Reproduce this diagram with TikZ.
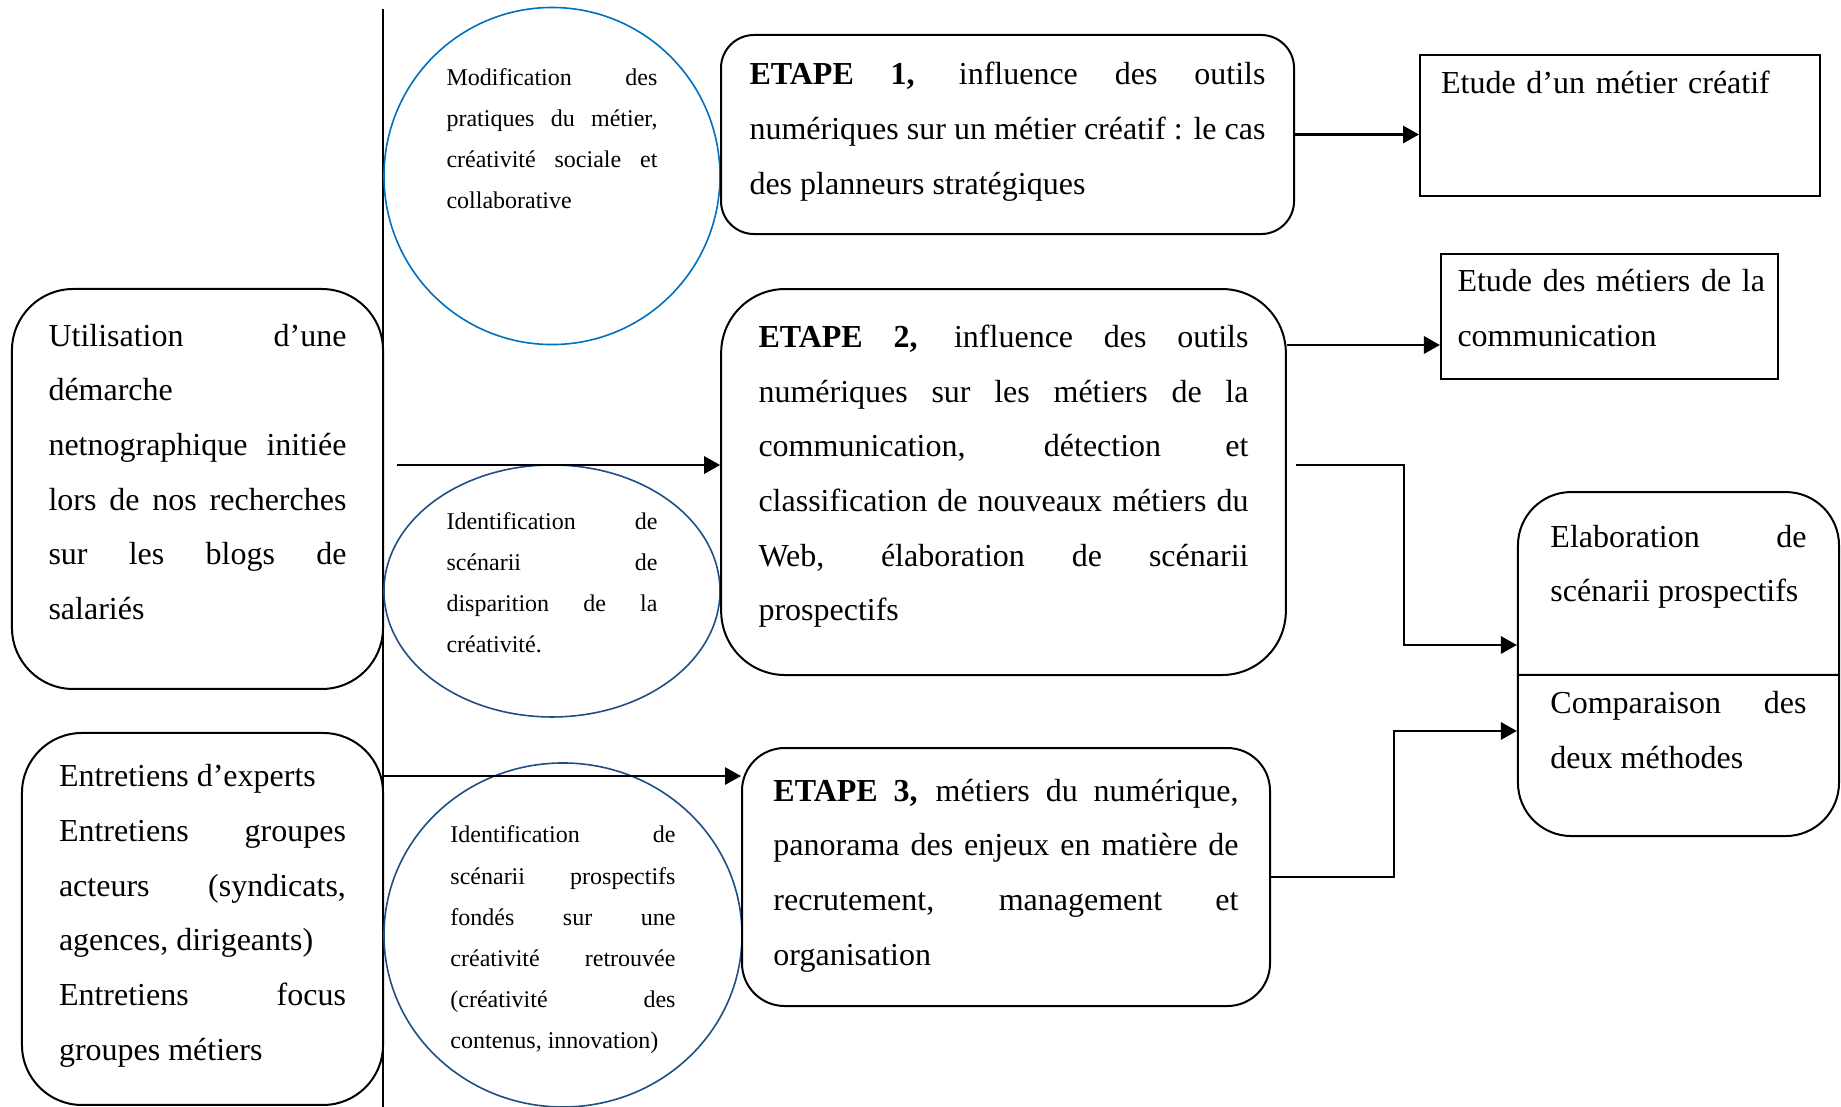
\documentclass[tikz,border=0pt]{standalone}
\usepackage{fontspec}
\setmainfont{Liberation Serif}
\usetikzlibrary{shapes.geometric, shapes.multipart, arrows.meta}
\definecolor{blueA}{RGB}{0,112,192}
\definecolor{blueB}{RGB}{32,78,130}
\tolerance=10000
\hbadness=10000
\hfuzz=20pt
\hyphenpenalty=10000

\begin{document}
\begin{tikzpicture} [
      stage/.style={draw, rectangle, line width=0.75pt, align=justify, inner ysep=0pt, font=\fontsize{12}{20.5}\selectfont},
      study/.style={draw, rectangle, line width=0.75pt, align=left, inner ysep=0pt, font=\fontsize{12}{20.5}\selectfont},
      idea/.style={draw, ellipse, line width=0.6pt, align=justify, inner sep=0pt, font=\fontsize{9}{15.4}\selectfont},
      link/.style={-{Triangle[length=6pt, width=6.4pt]}, line width=1.05pt}
   ]
    \useasboundingbox (0, 0) rectangle (24.264, -14.59);
    \coordinate (sepTop) at (5.048, -0.119);
    \coordinate (sepBottom) at (5.048, -14.59);
    \draw[line width=0.75pt] (sepTop) -- (sepBottom);

    \node[stage, rounded corners=23pt, text width=111.75pt, inner xsep=13.7pt, text height=21.4pt, text depth=128.6pt] (ndUtil) at (2.603, -6.445) {
      Utilisation d’une\linebreak
      démarche\\
      netnographique initiée\linebreak
      lors de nos recherches\linebreak
      sur les blogs de\linebreak
      salariés
    };
    \node[stage, rounded corners=22.5pt, below of=ndUtil, node distance=5.667cm, xshift=0.066cm, text width=107.6pt, inner xsep=13.9pt, text height=20.25pt, text depth=119.25pt] (ndEntretiens) {
      Entretiens d’experts\\
      Entretiens groupes\linebreak
      acteurs (syndicats,\linebreak
      agences, dirigeants)\\
      Entretiens focus\linebreak
      groupes métiers
    };

    \node[idea, draw=blueA, right of=ndUtil, node distance=4.672cm, yshift=4.125cm, text width=79.1pt, minimum width=126pt, minimum height=126.4pt, text height=6pt, text depth=74.25pt] (ndModif) {
      Modification des\linebreak
      pratiques du métier,\linebreak
      créativité sociale et\linebreak
      collaborative
    };
    \node[idea, draw=blueB, below of=ndModif, node distance=5.469cm, text width=79.1pt, minimum width=126pt, minimum height=94.5pt, text height=6pt, text depth=52.1pt] (ndDisparition) {
      Identification de\linebreak
      scénarii de\linebreak
      disparition de la\linebreak
      créativité.
    };
    \node[idea, draw=blueB, below of=ndDisparition, node distance=4.534cm, xshift=0.145cm, text width=84.4pt, minimum width=134.25pt, minimum height=129pt, text height=6pt, text depth=75pt] (ndRetrouvee) {
      Identification de\linebreak
      scénarii prospectifs\linebreak
      fondés sur une\linebreak
      créativité retrouvée\linebreak
      (créativité des\linebreak
      \mbox{contenus, innovation)}
    };

    \node[stage, rounded corners=24pt, right of=ndUtil, node distance=10.623cm, yshift=0.092cm, text width=183.75pt, inner xsep=14pt, text height=21.9pt, text depth=122.85pt] (ndEtapeB) {
      \textbf{ETAPE 2,} influence des outils\linebreak
      numériques sur les métiers de la\linebreak
      communication, détection et\linebreak
      classification de nouveaux métiers du\linebreak
      Web, élaboration de scénarii\linebreak
      prospectifs
    };
    \node[stage, rounded corners=12.4pt, above of=ndEtapeB, node distance=4.58cm, xshift=0.053cm, text width=193.5pt, inner xsep=10.7pt, text height=18.75pt, text depth=55.9pt] (ndEtapeA) {
      \textbf{ETAPE 1,} influence des outils\linebreak
      numériques sur un métier créatif : le cas\linebreak
      des planneurs stratégiques
    };
    \node[stage, rounded corners=16pt, below of=ndEtapeB, node distance=5.206cm, xshift=0.033cm, text width=174.4pt, inner xsep=11.8pt, text height=19.9pt, text depth=76.85pt] (ndEtapeC) {
      \textbf{ETAPE 3,} métiers du numérique,\linebreak
      panorama des enjeux en matière de\linebreak
      recrutement, management et\linebreak
      organisation
    };

    \node[study, right of=ndEtapeA, node distance=8.073cm, yshift=0.119cm, text width=134.2pt, inner xsep=7.9pt, text height=14.6pt, text depth=38.3pt] (ndMetier) {
      Etude d’un métier créatif
    };
    \node[study, right of=ndEtapeB, node distance=7.987cm, yshift=2.182cm, text width=114pt, inner xsep=6.2pt, text height=14.25pt, text depth=32.6pt] (ndComm) {
      \mbox{Etude des métiers de la}\\
      communication
    };
    \node[draw, rectangle split, rectangle split parts=2, line width=0.75pt, rounded corners=20pt, right of=ndEtapeB, node distance=8.896cm, yshift=-2.399cm, text width=96pt, inner xsep=12.2pt, inner ysep=0pt, align=justify, font=\fontsize{12}{20.5}\selectfont] (ndSynth) {
      \rule{0pt}{20.25pt}Elaboration de\linebreak
      scénarii prospectifs\rule[-27.1pt]{0pt}{27.1pt}
      \nodepart{two}
      \rule{0pt}{14.25pt}Comparaison des\linebreak
      deux méthodes\rule[-24.9pt]{0pt}{24.9pt}
    };

    \coordinate (netIn) at (5.232, -6.129);
    \coordinate (commIn) at ([yshift=-0.376cm]ndComm.west);
    \coordinate (expIn) at ([yshift=1.331cm]ndEtapeC.west);
    \coordinate (synthInA) at ([yshift=0.395cm]ndSynth.one split west);
    \coordinate (synthInB) at ([yshift=-0.738cm]ndSynth.one split west);

    \draw[link] (ndEtapeA.east) -- (ndEtapeA.east -| ndMetier.west);
    \draw[link] (commIn -| ndEtapeB.east) -- (commIn);
    \draw[link] (netIn) -- (netIn -| ndEtapeB.west);
    \draw[link] (expIn -| ndEntretiens.east) -- (expIn);
    \draw[link, shorten <=3.4pt] (netIn -| ndEtapeB.east) -| ([xshift=-1.489cm]synthInA) -- (synthInA);
    \draw[link] (ndEtapeC.east) -| ([xshift=-1.621cm]synthInB) -- (synthInB);

  \end{tikzpicture}
\end{document}
